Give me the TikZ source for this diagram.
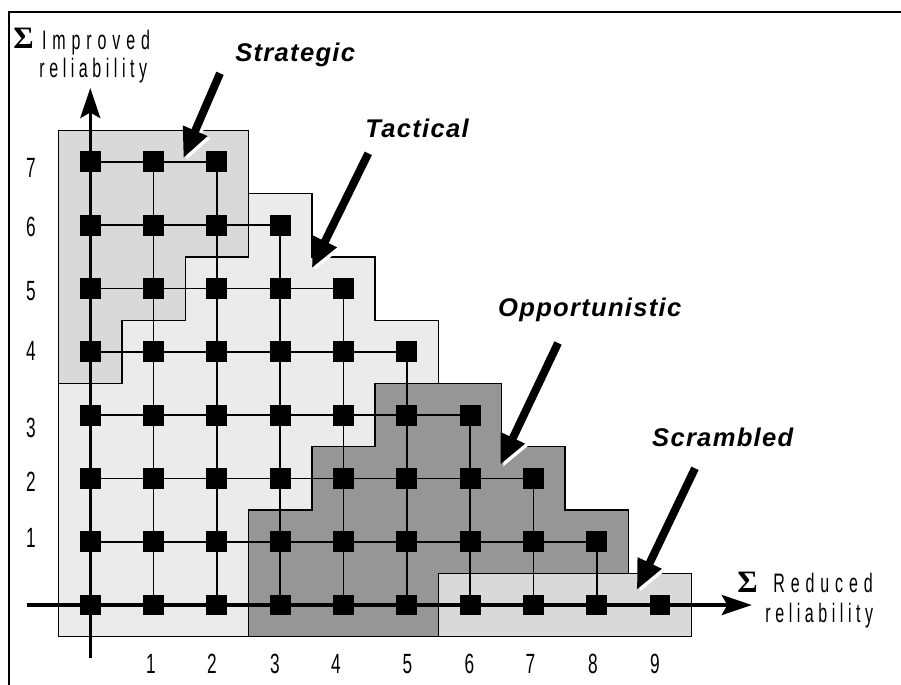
\documentclass[tikz,border=0pt]{standalone}
\usepackage{fontspec}
\usetikzlibrary{arrows.meta}
\newfontfamily\digitfont[FakeStretch=0.62]{Liberation Sans}
\newfontfamily\axisfont[FakeStretch=0.6,LetterSpace=22]{Liberation Sans}
\newfontfamily\axisfontnarrow[FakeStretch=0.6,LetterSpace=17]{Liberation Sans}
\newfontfamily\zonefont[LetterSpace=5]{Liberation Sans}
\newfontfamily\sigmafont{Liberation Serif}
\definecolor{zonelight}{RGB}{235,235,235}
\definecolor{zonemid}{RGB}{217,217,217}
\definecolor{zonedark}{RGB}{150,150,150}
\begin{document}
\begin{tikzpicture}[x=1cm,y=1cm,
  zone/.style={draw=black, line width=0.6pt},
  gridline/.style={line width=0.8pt},
  axisline/.style={line width=1.5pt, -{Stealth[length=13.5pt,width=9pt,inset=2.5pt]}},
  point/.style={fill=black, minimum size=0.33cm, inner sep=0pt, outer sep=0pt},
  pointer/.style={line width=3.6pt, -{Triangle[length=13.5pt,width=11pt]}},
  tick/.style={font=\digitfont\fontsize{12.5}{14}\selectfont, inner sep=0pt},
  zonelabel/.style={font=\zonefont\bfseries\itshape\fontsize{11.5}{13}\selectfont, anchor=base west, inner sep=0pt},
  axislabel/.style={font=\axisfont\fontsize{12}{14}\selectfont, anchor=base west, inner sep=0pt},
  axislabelb/.style={font=\axisfontnarrow\fontsize{12}{14}\selectfont, anchor=base west, inner sep=0pt},
  sigma/.style={font=\sigmafont\bfseries\fontsize{14}{16}\selectfont, anchor=base west, inner sep=0pt},
]
\useasboundingbox (-1.4265,-1.248) rectangle (12.807,9.558);

% open frame: left and top edges only
\coordinate (frame-bottom) at (-1.284,-1.4);
\coordinate (frame-corner) at (-1.284,9.368);
\coordinate (frame-right) at (12.9,9.368);
\draw[line width=1.3pt] (frame-bottom) -- (frame-corner) -- (frame-right);

% zones
\filldraw[zone, fill=zonelight] (-0.5,-0.5) -- (2.5,-0.5) -- (2.5,1.5) -- (3.5,1.5) -- (3.5,2.5)
  -- (4.5,2.5) -- (4.5,3.5) -- (5.5,3.5) -- (5.5,4.5) -- (4.5,4.5) -- (4.5,5.5) -- (3.5,5.5)
  -- (3.5,6.5) -- (2.5,6.5) -- (2.5,5.5) -- (1.5,5.5) -- (1.5,4.5) -- (0.5,4.5) -- (0.5,3.5)
  -- (-0.5,3.5) -- cycle;
\filldraw[zone, fill=zonemid] (-0.5,7.5) -- (2.5,7.5) -- (2.5,5.5) -- (1.5,5.5) -- (1.5,4.5)
  -- (0.5,4.5) -- (0.5,3.5) -- (-0.5,3.5) -- cycle;
\filldraw[zone, fill=zonedark] (4.5,3.5) -- (6.5,3.5) -- (6.5,2.5) -- (7.5,2.5) -- (7.5,1.5)
  -- (8.5,1.5) -- (8.5,0.5) -- (5.5,0.5) -- (5.5,-0.5) -- (2.5,-0.5) -- (2.5,1.5) -- (3.5,1.5)
  -- (3.5,2.5) -- (4.5,2.5) -- cycle;
\filldraw[zone, fill=zonemid] (5.5,-0.5) rectangle (9.5,0.5);

% lattice positions
\foreach \i in {0,...,9}{
  \pgfmathtruncatemacro\jmax{min(7,9-\i)}
  \foreach \j in {0,...,\jmax}{\coordinate (g-\i-\j) at (\i,\j);}
}
% thin lattice lines
\foreach \i in {1,...,8}{
  \pgfmathtruncatemacro\jmax{min(7,9-\i)}
  \draw[gridline] (g-\i-0) -- (g-\i-\jmax);
}
\foreach \j in {1,...,7}{
  \pgfmathtruncatemacro\imax{9-\j}
  \draw[gridline] (g-0-\j) -- (g-\imax-\j);
}

% axes
\coordinate (y-start) at (0,-0.837);
\coordinate (y-end) at (0,8.167);
\coordinate (x-start) at (-1.005,0);
\coordinate (x-end) at (10.45,0);
\draw[axisline] (y-start) -- (y-end);
\draw[axisline] (x-start) -- (x-end);

% lattice points
\foreach \i in {0,...,9}{
  \pgfmathtruncatemacro\jmax{min(7,9-\i)}
  \foreach \j in {0,...,\jmax}{\node[point] (p-\i-\j) at (g-\i-\j) {};}
}

% tick labels
\node[tick] (ty7) at (-0.937,6.904) {7};
\node[tick] (ty6) at (-0.937,5.972) {6};
\node[tick] (ty5) at (-0.937,4.960) {5};
\node[tick] (ty4) at (-0.937,4.013) {4};
\node[tick] (ty3) at (-0.937,2.796) {3};
\node[tick] (ty2) at (-0.937,1.943) {2};
\node[tick] (ty1) at (-0.937,1.058) {1};
\node[tick] (tx1) at (0.959,-0.932) {1};
\node[tick] (tx2) at (1.923,-0.932) {2};
\node[tick] (tx3) at (2.918,-0.932) {3};
\node[tick] (tx4) at (3.882,-0.932) {4};
\node[tick] (tx5) at (5.011,-0.932) {5};
\node[tick] (tx6) at (5.991,-0.932) {6};
\node[tick] (tx7) at (6.954,-0.932) {7};
\node[tick] (tx8) at (7.942,-0.932) {8};
\node[tick] (tx9) at (8.921,-0.932) {9};

% axis titles
\node[sigma] (sig-y) at (-1.221,8.784) {Σ};
\node[axislabel] (ay1) at (-0.768,8.779) {Improved};
\node[axislabelb] (ay2) at (-0.810,8.330) {reliability};
\node[sigma] (sig-x) at (10.216,0.194) {Σ};
\node[axislabel] (ax1) at (10.785,0.194) {Reduced};
\node[axislabelb] (ax2) at (10.659,-0.279) {reliability};

% zone names
\node[zonelabel] (lab-st) at (2.284,8.594) {Strategic};
\node[zonelabel] (lab-ta) at (4.340,7.393) {Tactical};
\node[zonelabel] (lab-op) at (6.436,4.555) {Opportunistic};
\node[zonelabel] (lab-sc) at (8.869,2.512) {Scrambled};

% pointer arrows, each with a white rim below-right
\coordinate (st-tail) at (2.049,8.400); \coordinate (st-tip) at (1.469,7.057);
\coordinate (ta-tail) at (4.392,7.136); \coordinate (ta-tip) at (3.498,5.319);
\coordinate (op-tail) at (7.389,4.139); \coordinate (op-tip) at (6.473,2.212);
\coordinate (sc-tail) at (9.553,2.160); \coordinate (sc-tip) at (8.632,0.237);
\foreach \k in {st,ta,op,sc}{
  \draw[pointer, white] ([shift={(0.045,-0.035)}]\k-tail) -- ([shift={(0.045,-0.035)}]\k-tip);
  \draw[pointer] (\k-tail) -- (\k-tip);
}
\end{tikzpicture}
\end{document}
